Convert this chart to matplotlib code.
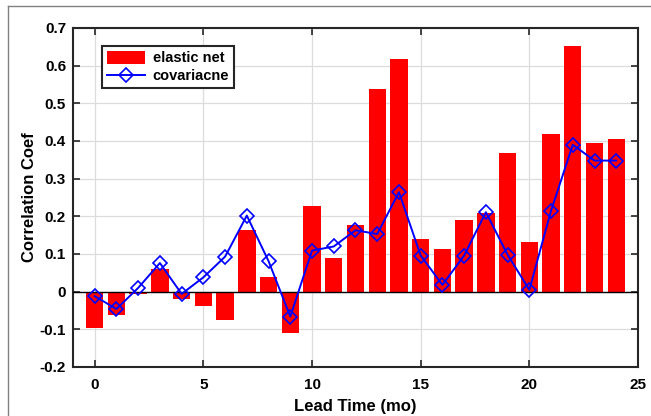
import numpy as np
import matplotlib
matplotlib.use("Agg")
import matplotlib.pyplot as plt
from matplotlib.lines import Line2D

plt.rcParams['font.family'] = ['Liberation Sans', 'DejaVu Sans']
plt.rcParams['font.weight'] = 'bold'

# data
lead_time = np.arange(25)
elastic_net = [-0.097, -0.063, -0.005, 0.060, -0.019, -0.039, -0.075, 0.164, 0.039, -0.109,
               0.227, 0.090, 0.178, 0.539, 0.617, 0.140, 0.114, 0.191, 0.208, 0.369,
               0.133, 0.419, 0.652, 0.394, 0.406]
covariance = [-0.012, -0.046, 0.010, 0.076, -0.006, 0.038, 0.093, 0.202, 0.081, -0.066,
              0.109, 0.120, 0.163, 0.153, 0.264, 0.096, 0.018, 0.096, 0.211, 0.098,
              0.005, 0.215, 0.390, 0.348, 0.348]
x_ticks = [0, 5, 10, 15, 20, 25]
y_ticks = [-0.2, -0.1, 0, 0.1, 0.2, 0.3, 0.4, 0.5, 0.6, 0.7]
y_ticklabels = ['-0.2', '-0.1', '0', '0.1', '0.2', '0.3', '0.4', '0.5', '0.6', '0.7']

fig = plt.figure(figsize=(6.51, 4.16), dpi=100)
ax = fig.add_axes([0.1121, 0.1178, 0.8679, 0.8149])

ax.grid(True, color='#dcdcdc', linewidth=0.9, zorder=0)
ax.set_axisbelow(True)
bars = ax.bar(lead_time, elastic_net, width=0.8, color='#ff0000', label='elastic net', zorder=2)
ax.axhline(0, color='black', linewidth=1.0, zorder=3)
line, = ax.plot(lead_time, covariance, color='#0000ff', linewidth=1.4, marker='D',
                markersize=7.5, markerfacecolor='none', markeredgecolor='#0000ff',
                markeredgewidth=1.2, label='covariacne', zorder=4)

ax.set_xlim(-1, 25)
ax.set_ylim(-0.2, 0.7)
ax.set_xticks(x_ticks)
ax.set_yticks(y_ticks)
ax.set_yticklabels(y_ticklabels)
ax.tick_params(direction='in', length=5, width=1.2, labelsize=11, colors='#262626',
               top=True, right=True)
ax.tick_params(axis='x', pad=8)
ax.tick_params(axis='y', pad=5)
for lab in ax.get_xticklabels() + ax.get_yticklabels():
    lab.set_fontweight('bold')
    lab.set_color('black')
for s in ax.spines.values():
    s.set_linewidth(1.5)
    s.set_color('#262626')

ax.set_xlabel('Lead Time (mo)', fontsize=12, fontweight='bold', labelpad=5)
ax.set_ylabel('Correlation Coef', fontsize=12, fontweight='bold', labelpad=2)

leg = ax.legend([bars, line], ['elastic net', 'covariacne'], loc='upper left',
                bbox_to_anchor=(0.052, 0.946), fontsize=10.5,
                frameon=True, fancybox=False, edgecolor='#262626', framealpha=1,
                handlelength=2.6, handleheight=0.9, borderpad=0.35, labelspacing=0.25,
                handletextpad=0.5, borderaxespad=0)
leg.get_frame().set_linewidth(1.5)
for t in leg.get_texts():
    t.set_fontweight('bold')

# thin grey frame lines at top and left of the image
fig.add_artist(Line2D([0.012, 1.0], [0.986, 0.986], color='#808080', linewidth=1.0))
fig.add_artist(Line2D([0.012, 0.012], [0.0, 0.986], color='#808080', linewidth=1.0))

fig.savefig('out.png', dpi=100)
